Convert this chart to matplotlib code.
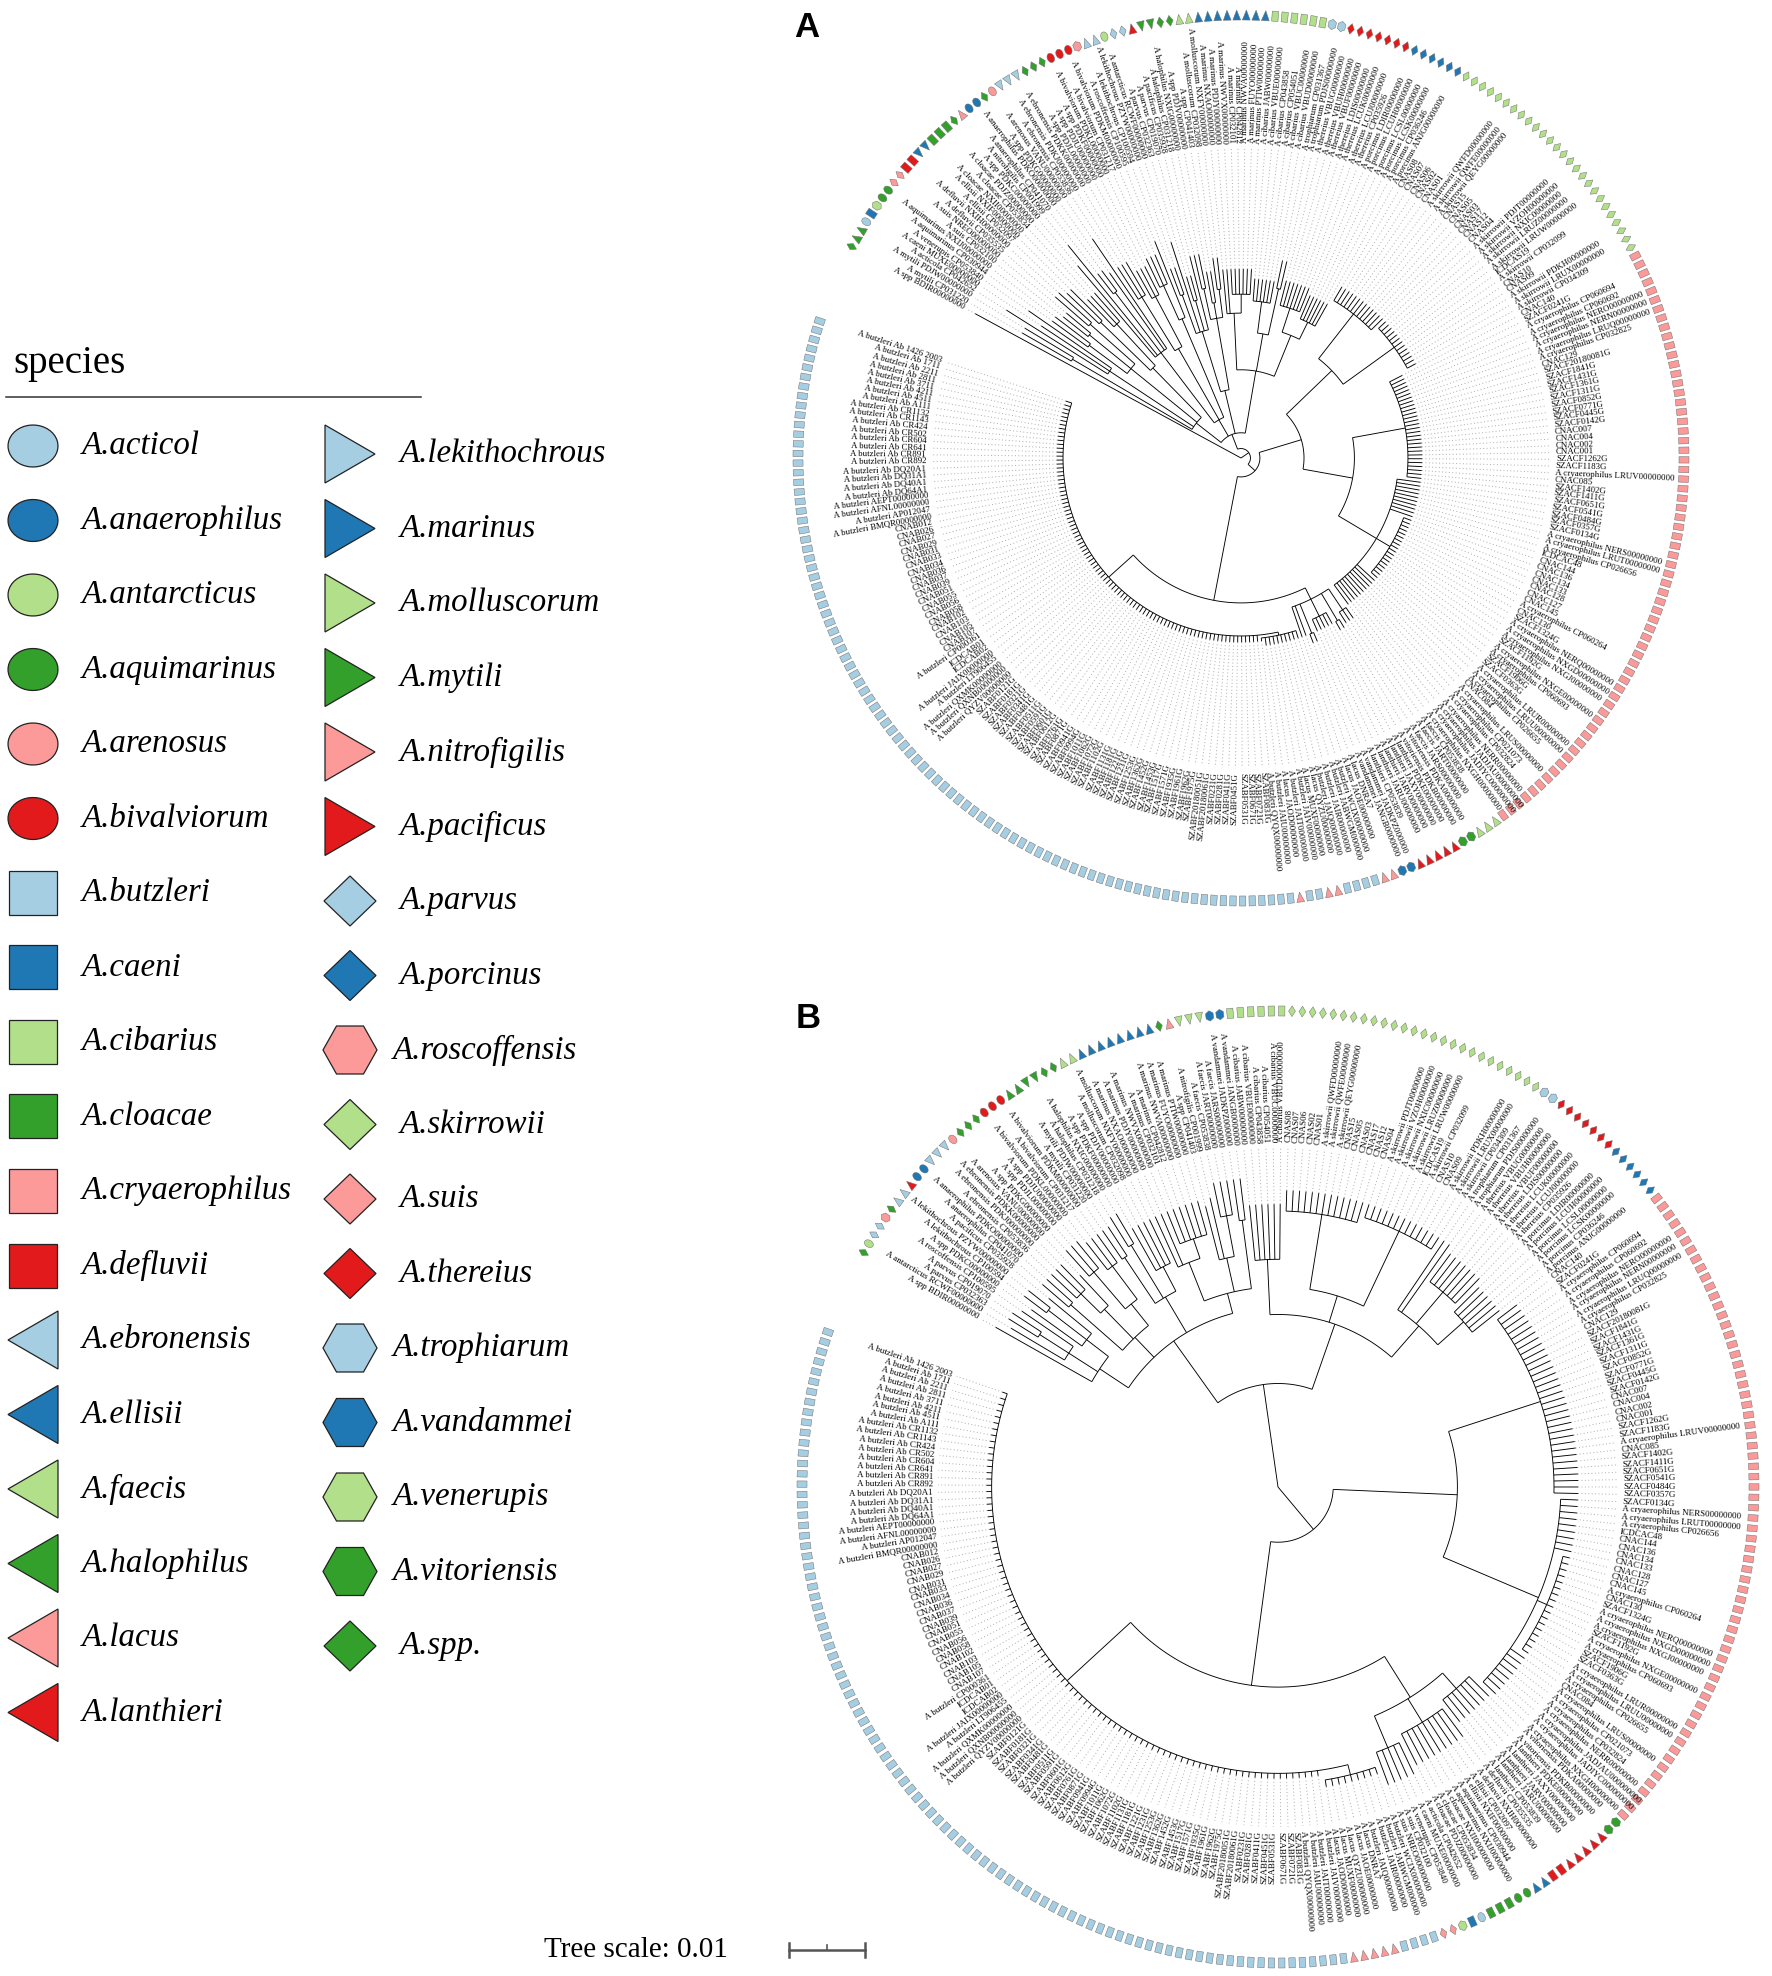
import numpy as np
import matplotlib
matplotlib.use('Agg')
import matplotlib.pyplot as plt
from matplotlib.collections import LineCollection, PatchCollection
from matplotlib.patches import Polygon

W, H = 1772, 1976
SERIF = ['Liberation Serif', 'DejaVu Serif']
plt.rcParams['font.family'] = SERIF

LB, BL, LG, GR, PK, RD = '#a6cee3', '#1f78b4', '#b2df8a', '#33a02c', '#fb9a99', '#e31a1c'

# species -> (marker shape, colour), as in the legend
STYLE = {
    'acticol': ('ellipse', LB), 'anaerophilus': ('ellipse', BL), 'antarcticus': ('ellipse', LG),
    'aquimarinus': ('ellipse', GR), 'arenosus': ('ellipse', PK), 'bivalviorum': ('ellipse', RD),
    'butzleri': ('square', LB), 'caeni': ('square', BL), 'cibarius': ('square', LG),
    'cloacae': ('square', GR), 'cryaerophilus': ('square', PK), 'defluvii': ('square', RD),
    'ebronensis': ('ltri', LB), 'ellisii': ('ltri', BL), 'faecis': ('ltri', LG),
    'halophilus': ('ltri', GR), 'lacus': ('ltri', PK), 'lanthieri': ('ltri', RD),
    'lekithochrous': ('rtri', LB), 'marinus': ('rtri', BL), 'molluscorum': ('rtri', LG),
    'mytili': ('rtri', GR), 'nitrofigilis': ('rtri', PK), 'pacificus': ('rtri', RD),
    'parvus': ('diamond', LB), 'porcinus': ('diamond', BL), 'roscoffensis': ('hexagon', PK),
    'skirrowii': ('diamond', LG), 'suis': ('diamond', PK), 'thereius': ('diamond', RD),
    'trophiarum': ('hexagon', LB), 'vandammei': ('hexagon', BL), 'venerupis': ('hexagon', LG),
    'vitoriensis': ('hexagon', GR), 'spp': ('diamond', GR),
}

LEGEND_LEFT = ['acticol', 'anaerophilus', 'antarcticus', 'aquimarinus', 'arenosus', 'bivalviorum',
               'butzleri', 'caeni', 'cibarius', 'cloacae', 'cryaerophilus', 'defluvii',
               'ebronensis', 'ellisii', 'faecis', 'halophilus', 'lacus', 'lanthieri']
LEGEND_RIGHT = ['lekithochrous', 'marinus', 'molluscorum', 'mytili', 'nitrofigilis', 'pacificus',
                'parvus', 'porcinus', 'roscoffensis', 'skirrowii', 'suis', 'thereius',
                'trophiarum', 'vandammei', 'venerupis', 'vitoriensis', 'spp']

# strain identifiers used for the tip labels
IDS = {
    'spp': ['CP041403', 'PDJV00000000', 'PDKF00000000', 'PDJU00000000', 'PDJL00000000',
            'PDKG00000000', 'PDKC00000000', 'BDIR00000000'],
    'mytili': ['PDJW00000000', 'CP031220'],
    'acticol': ['CP042652'],
    'caeni': ['MUXE00000000'],
    'venerupis': ['CP053840'],
    'aquimarinus': ['NXIJ00000000', 'CP030944'],
    'suis': ['NREO00000000', 'CP032100'],
    'defluvii': ['NXIH00000000', 'CP035535'],
    'ellisii': ['NXIF00000000', 'CP032097'],
    'cloacae': ['PDJZ00000000', 'CP053834', 'NXII00000000'],
    'nitrofigilis': ['CP001999'],
    'anaerophilus': ['PDKO00000000', 'CP041070'],
    'arenosus': ['VANU00000000'],
    'ebronensis': ['PDKK00000000', 'PDKJ00000000', 'CP053836'],
    'bivalviorum': ['PDKM00000000', 'CP031217', 'PDKL00000000'],
    'roscoffensis': ['CP100595'],
    'lekithochrous': ['PZYW00000000', 'CP100594'],
    'antarcticus': ['RCWF00000000'],
    'parvus': ['CP019070', 'CP032363'],
    'pacificus': ['CP035928'],
    'halophilus': ['NXIG00000000', 'CP031218'],
    'molluscorum': ['NXFY00000000', 'CP032098'],
    'marinus': ['PTIW00000000', 'FUYO00000000', 'NWVA00000000', 'CP042812', 'CP032101',
                'NWVX00000000', 'PDJY00000000', 'NXAO00000000'],
    'cibarius': ['VBUD00000000', 'VBUC00000000', 'CP054051', 'CP043858', 'VBUE00000000',
                 'JABW00000000'],
    'trophiarum': ['PDJS00000000', 'CP031367'],
    'thereius': ['CP035926', 'LCUJ00000000', 'LCUK00000000', 'LDIS00000000', 'VBUF00000000',
                 'VBUH00000000', 'VBUG00000000'],
    'porcinus': ['ANJG00000000', 'CP036246', 'LCSK00000000', 'LCSL00000000', 'LCUH00000000',
                 'LDIR00000000'],
    'skirrowii': ['CP034309', 'LRUX00000000', 'PDKH00000000', 'CNAS09', 'CNAS10', 'CP032099',
                  'ICDCAS19', 'LRUW00000000', 'LRUZ00000000', 'NXIC00000000', 'VZOH00000000',
                  'PDJT00000000', 'CNAS04', 'CNAS12', 'CNAS17', 'CNAS03', 'CNAS05', 'CNAS15',
                  'QEYG00000000', 'QWFE00000000', 'QWFD00000000', 'CNAS01', 'CNAS02', 'CNAS06',
                  'CNAS07', 'CNAS08'],
    'cryaerophilus': ['NXGH00000000', 'JADIYC000000000', 'JADJAU000000000', 'NERR00000000',
                      'CP032824', 'CP021073', 'LRUS00000000', 'CNAC084', 'CP026655',
                      'LRUU00000000', 'LRUR00000000', 'SZACF0363G', 'SZACF1906G', 'CP060693',
                      'NXGE00000000', 'SZACF1192G', 'NXGJ00000000', 'NXGD00000000',
                      'NERQ00000000', 'SZACF1324G', 'CNAC130', 'CP060264', 'CNAC145', 'CNAC127',
                      'CNAC128', 'CNAC133', 'CNAC134', 'CNAC136', 'CNAC144', 'ICDCAC48',
                      'CP026656', 'LRUT00000000', 'NERS00000000', 'SZACF0134G', 'SZACF0357G',
                      'SZACF0484G', 'SZACF0541G', 'SZACF0651G', 'SZACF1411G', 'SZACF1402G',
                      'CNAC085', 'LRUV00000000', 'SZACF1183G', 'SZACF1262G', 'CNAC001',
                      'CNAC002', 'CNAC004', 'CNAC007', 'SZACF0142G', 'SZACF0445G', 'SZACF0771G',
                      'SZACF0852G', 'SZACF1311G', 'SZACF1361G', 'SZACF1431G', 'SZACF1841G',
                      'SZACF20180081G', 'CNAC129', 'CP032825', 'LRUQ00000000', 'NERN00000000',
                      'NERO00000000', 'CP060692', 'CP060694', 'SZACF0241G', 'CNAC140'],
    'faecis': ['JARS00000000', 'JART00000000', 'CP053838'],
    'vitoriensis': ['PDKB00000000', 'PDKA00000000'],
    'lanthieri': ['CP053839', 'JARU00000000', 'JARV00000000', 'JAXY00000000', 'PDKE00000000'],
    'vandammei': ['JANGB0000000', 'JADKPZ000000'],
    'lacus': ['JAOD00000000', 'MUXF00000000', 'QYZU00000000', 'JAOE00000000', 'DNRA7'],
    'butzleri': ['Ab 1426 2003', 'Ab 1711', 'Ab 2211', 'Ab 2811', 'Ab 3711', 'Ab 4211', 'Ab 4511',
                 'Ab A111', 'Ab CR1132', 'Ab CR1143', 'Ab CR424', 'Ab CR502', 'Ab CR604',
                 'Ab CR641', 'Ab CR891', 'Ab CR892', 'Ab DQ20A1', 'Ab DQ31A1', 'Ab DQ40A1',
                 'Ab DQ64A1', 'AEPT00000000', 'AFNL00000000', 'AP012047', 'BMQR00000000',
                 'CNAB012', 'CNAB026', 'CNAB027', 'CNAB029', 'CNAB031', 'CNAB033', 'CNAB034',
                 'CNAB036', 'CNAB037', 'CNAB039', 'CNAB051', 'CNAB055', 'CNAB056', 'CNAB058',
                 'CNAB102', 'CNAB103', 'CNAB105', 'CNAB107', 'CP000361', 'ICDCAB01', 'ICDCAB02',
                 'JAIX00000000', 'LT906455', 'QXMK00000000', 'QXNB00000000', 'QYZV00000000',
                 'SZABF0121G', 'SZABF0181G', 'SZABF0321G', 'SZABF0341G', 'SZABF0481G',
                 'SZABF0511G', 'SZABF0591G', 'SZABF0601G', 'SZABF0612G', 'SZABF0761G',
                 'SZABF0871G', 'SZABF0941G', 'SZABF0994G', 'SZABF1011G', 'SZABF1062G',
                 'SZABF1072G', 'SZABF1102G', 'SZABF1131G', 'SZABF1181G', 'SZABF1221G',
                 'SZABF1231G', 'SZABF1253G', 'SZABF1362G', 'SZABF1452G', 'SZABF1453G',
                 'SZABF1517G', 'SZABF1571G', 'SZABF1935G', 'SZABF1961G', 'SZABF1962G',
                 'SZABF1975G', 'SZABF20180051G', 'SZABF20180061G', 'SZABF0231G', 'SZABF0281G',
                 'SZABF0411G', 'SZABF0451G', 'SZABF0531G', 'SZABF0671G', 'SZABF0721G',
                 'SZABF0831G', 'QYQX00000000', 'JAIU00000000', 'JAIT00000000', 'JAIV00000000',
                 'JAIQ00000000', 'JAIR00000000', 'JABWGM000000', 'WCIX00000000'],
}

# ---- tree A: leaf order round the ring (clockwise) and tip depth per run ----
RUNS_A = [('spp', 1), ('mytili', 2), ('acticol', 1), ('caeni', 1), ('venerupis', 1),
          ('aquimarinus', 2), ('suis', 2), ('defluvii', 2), ('ellisii', 2), ('cloacae', 3),
          ('spp', 1), ('nitrofigilis', 1), ('anaerophilus', 2), ('spp', 1), ('arenosus', 1),
          ('ebronensis', 3), ('spp', 3), ('bivalviorum', 3), ('roscoffensis', 1),
          ('lekithochrous', 2), ('antarcticus', 1), ('parvus', 2), ('pacificus', 1),
          ('halophilus', 2), ('spp', 2), ('molluscorum', 2), ('marinus', 8), ('cibarius', 6),
          ('trophiarum', 2), ('thereius', 7), ('porcinus', 6), ('skirrowii', 26),
          ('cryaerophilus', 66), ('faecis', 3), ('vitoriensis', 2), ('lanthieri', 5),
          ('vandammei', 2), ('lacus', 2), ('butzleri', 4), ('lacus', 2), ('butzleri', 2),
          ('lacus', 1), ('butzleri', 93)]
TIPS_A = [0.96, 0.80, 0.88, 0.76, 0.82, 0.74, 0.72, 0.78, 0.76, 0.70,
          0.80, 0.87, 0.74, 0.72, 0.84, 0.72, 0.68, 0.70, 0.74, 0.64,
          0.72, 0.60, 0.66, 0.66, 0.60, 0.64, 0.60, 0.57, 0.64, 0.58,
          0.56, 0.63, 0.575, 0.62, 0.63, 0.60, 0.63, 0.60, 0.60, 0.60,
          0.60, 0.60, 0.585]
# clades: (first leaf, last leaf, node depth)
CLADES_A = [(0, 281, 0.00), (1, 281, 0.03), (1, 73, 0.08),
            (1, 16, 0.18), (1, 2, 0.62), (3, 5, 0.50), (6, 11, 0.45), (6, 7, 0.60),
            (8, 9, 0.62), (10, 11, 0.64), (12, 16, 0.40), (12, 13, 0.62), (14, 16, 0.58),
            (17, 32, 0.14), (17, 22, 0.42), (19, 20, 0.66), (23, 28, 0.40), (23, 25, 0.60),
            (26, 28, 0.58), (29, 32, 0.48), (29, 31, 0.60),
            (33, 44, 0.22), (33, 38, 0.42), (33, 34, 0.55), (36, 37, 0.52),
            (39, 44, 0.45), (39, 40, 0.55), (41, 42, 0.50), (43, 44, 0.54),
            (45, 73, 0.28), (45, 52, 0.46), (47, 52, 0.52), (53, 60, 0.40), (53, 58, 0.50),
            (59, 60, 0.55), (61, 73, 0.42), (61, 67, 0.50), (68, 73, 0.48),
            (74, 281, 0.06), (74, 165, 0.20), (74, 99, 0.40), (74, 86, 0.58), (87, 99, 0.60),
            (100, 165, 0.36), (100, 127, 0.53), (128, 165, 0.50), (138, 155, 0.55),
            (166, 281, 0.46), (166, 179, 0.50), (166, 168, 0.58), (169, 170, 0.60),
            (171, 175, 0.56), (176, 177, 0.60), (180, 281, 0.565), (180, 189, 0.575)]

# ---- tree B ----
RUNS_B = [('spp', 1), ('antarcticus', 1), ('parvus', 2), ('roscoffensis', 1), ('spp', 1),
          ('lekithochrous', 2), ('pacificus', 1), ('anaerophilus', 2), ('ebronensis', 3),
          ('arenosus', 1), ('spp', 3), ('bivalviorum', 3), ('mytili', 2), ('halophilus', 2),
          ('spp', 2), ('molluscorum', 2), ('marinus', 8), ('spp', 1), ('nitrofigilis', 1),
          ('faecis', 3), ('vandammei', 2), ('cibarius', 6), ('skirrowii', 26),
          ('trophiarum', 2), ('thereius', 7), ('porcinus', 6), ('cryaerophilus', 66),
          ('vitoriensis', 2), ('lanthieri', 5), ('defluvii', 2), ('ellisii', 2),
          ('aquimarinus', 2), ('cloacae', 3), ('acticol', 1), ('caeni', 1), ('venerupis', 1),
          ('suis', 2), ('butzleri', 4), ('lacus', 5), ('butzleri', 95)]
TIPS_B = [0.94, 0.90, 0.92, 0.90, 0.88, 0.92, 0.86, 0.90, 0.90, 0.84,
          0.92, 0.90, 0.90, 0.92, 0.86, 0.86, 0.86, 0.84, 0.86, 0.90,
          0.90, 0.82, 0.86, 0.86, 0.84, 0.82, 0.87, 0.86, 0.86, 0.90,
          0.90, 0.90, 0.90, 0.92, 0.92, 0.92, 0.92, 0.88, 0.88, 0.845]
CLADES_B = [(0, 281, 0.00), (0, 90, 0.30), (0, 43, 0.52),
            (0, 8, 0.62), (1, 4, 0.72), (2, 3, 0.82), (5, 8, 0.70), (6, 7, 0.84),
            (9, 20, 0.60), (9, 10, 0.80), (11, 14, 0.72), (11, 13, 0.80), (15, 20, 0.68),
            (15, 17, 0.82), (18, 20, 0.80),
            (21, 28, 0.64), (21, 22, 0.80), (23, 24, 0.82), (25, 28, 0.72),
            (29, 43, 0.58), (29, 36, 0.70), (31, 36, 0.76), (37, 41, 0.68), (39, 41, 0.80),
            (42, 43, 0.78),
            (44, 90, 0.50), (44, 49, 0.66), (50, 75, 0.58), (50, 62, 0.80), (63, 75, 0.82),
            (76, 90, 0.62), (78, 84, 0.74), (85, 90, 0.72),
            (91, 281, 0.16), (91, 156, 0.52), (91, 122, 0.80), (123, 156, 0.82),
            (132, 148, 0.85), (157, 281, 0.58), (157, 177, 0.72), (157, 163, 0.78),
            (164, 172, 0.80), (173, 177, 0.82), (178, 281, 0.83), (178, 186, 0.86)]

UNIT_SHAPES = {
    'ellipse': np.column_stack([np.cos(np.linspace(0, 2 * np.pi, 40)),
                                np.sin(np.linspace(0, 2 * np.pi, 40))]),
    'square': np.array([[-1, -1], [1, -1], [1, 1], [-1, 1]]),
    'ltri': np.array([[-1, 0], [1, -1], [1, 1]]),
    'rtri': np.array([[1, 0], [-1, -1], [-1, 1]]),
    'diamond': np.array([[1, 0], [0, 1], [-1, 0], [0, -1]]),
    'hexagon': np.array([[1, 0], [0.5, 1], [-0.5, 1], [-1, 0], [-0.5, -1], [0.5, -1]]),
}
RING_SIZE = {'ellipse': (4.8, 3.5), 'square': (5.0, 3.2), 'ltri': (5.0, 3.9),
             'rtri': (5.0, 3.9), 'diamond': (5.4, 3.4), 'hexagon': (5.2, 3.8)}
LEG_SIZE = {'ellipse': (25, 21), 'square': (24, 22), 'ltri': (25, 29),
            'rtri': (25, 29), 'diamond': (26, 25), 'hexagon': (27, 24)}
CODE_PREFIX = ('CNA', 'SZA', 'ICDC')


def shape_poly(shape, x, y, ang, size):
    sx, sy = size
    loc = UNIT_SHAPES[shape] * [sx, sy]
    c, s = np.cos(ang), np.sin(ang)
    px = x + loc[:, 0] * c - loc[:, 1] * s
    py = y + loc[:, 0] * s + loc[:, 1] * c
    return np.column_stack([px, py])


def leaf_label(sp, ident):
    if ident.startswith(CODE_PREFIX):
        return ident
    name = 'acticola' if sp == 'acticol' else sp
    return f'A {name} {ident}'


def draw_tree(ax, cx, cy, r_lab, r_ring, theta0, runs, tips, clades, fsize):
    species = [s for s, n in runs for _ in range(n)]
    tip = [t for (s, n), t in zip(runs, tips) for _ in range(n)]
    n = len(species)
    theta = theta0 - np.arange(n) * 349.5 / (n - 1)

    def pt(r, a):
        a = np.radians(a)
        return cx + r * r_lab * np.cos(a), cy + r * r_lab * np.sin(a)

    cl = sorted(clades, key=lambda c: c[0] - c[1])
    parent = {}
    for j, c in enumerate(cl):
        parent[j] = None
        for k in range(j):
            if cl[k][0] <= c[0] and c[1] <= cl[k][1]:
                parent[j] = k
    leaf_par = []
    for i in range(n):
        p = None
        for k, c in enumerate(cl):
            if c[0] <= i <= c[1]:
                p = k
        leaf_par.append(p)

    children = {j: [] for j in range(len(cl))}
    for j in range(len(cl)):
        if parent[j] is not None:
            children[parent[j]].append((cl[j][0], 'c', j))
    for i in range(n):
        children[leaf_par[i]].append((i, 'l', i))
    ang = {}
    span = {}
    for j in reversed(range(len(cl))):
        ch = sorted(children[j])
        a = [theta[k] if kind == 'l' else ang[k] for _, kind, k in ch]
        span[j] = (a[0], a[-1])
        ang[j] = (a[0] + a[-1]) / 2

    segs = []
    for j in range(len(cl)):
        r = cl[j][2]
        if parent[j] is not None:
            rp = cl[parent[j]][2]
            segs.append([pt(rp, ang[j]), pt(r, ang[j])])
        a0, a1 = span[j]
        aa = np.linspace(a0, a1, int(abs(a1 - a0)) + 2)
        segs.append(np.column_stack(pt(r, aa)))
    dots = []
    for i in range(n):
        rp = cl[leaf_par[i]][2]
        segs.append([pt(rp, theta[i]), pt(tip[i], theta[i])])
        dots.append([pt(tip[i], theta[i]), pt(0.985, theta[i])])
    ax.add_collection(LineCollection(dots, colors='#ababab', linewidths=0.7,
                                     linestyles=(0, (1, 2.5))))
    ax.add_collection(LineCollection(segs, colors='black', linewidths=0.65))

    # tip labels
    used = {}
    for i in range(n):
        sp = species[i]
        k = used.get(sp, 0)
        used[sp] = k + 1
        pool = IDS[sp]
        ident = pool[len(pool) - 1 - (k % len(pool))]
        a = (theta[i] + 180) % 360 - 180
        x, y = pt(1.0, theta[i])
        if -90 <= a <= 90:
            rot, ha = a, 'left'
        else:
            rot, ha = a + 180, 'right'
        ax.text(x, y, leaf_label(sp, ident), fontsize=fsize, rotation=rot, ha=ha,
                va='center', rotation_mode='anchor', family=SERIF)

    # coloured ring
    polys, cols = [], []
    for i in range(n):
        shape, col = STYLE[species[i]]
        a = np.radians(theta[i])
        x, y = cx + r_ring * np.cos(a), cy + r_ring * np.sin(a)
        polys.append(Polygon(shape_poly(shape, x, y, a, RING_SIZE[shape])))
        cols.append(col)
    ax.add_collection(PatchCollection(polys, facecolors=cols, edgecolors='#707070',
                                      linewidths=0.35))


fig = plt.figure(figsize=(W / 100, H / 100), dpi=100)
ax = fig.add_axes([0, 0, 1, 1])
ax.set_xlim(0, W)
ax.set_ylim(0, H)
ax.set_aspect('equal')
ax.axis('off')

draw_tree(ax, 1241, H - 458, 315, 443, 151.5, RUNS_A, TIPS_A, CLADES_A, 6.4)
draw_tree(ax, 1278, H - 1487, 345, 476, 150.5, RUNS_B, TIPS_B, CLADES_B, 6.5)

ax.text(794, H - 11, 'A', fontsize=25, fontweight='bold', family='Liberation Sans',
        ha='left', va='top')
ax.text(796, H - 1002, 'B', fontsize=25, fontweight='bold', family='Liberation Sans',
        ha='left', va='top')

# legend
ax.text(13, H - 364, 'species', fontsize=28, ha='left', va='center', family=SERIF)
ax.plot([6, 421], [H - 397, H - 397], color='#333333', lw=1.1)
for col_names, mx, tx, y0 in [(LEGEND_LEFT, 33, 82, 446), (LEGEND_RIGHT, 350, 400, 454)]:
    for i, sp in enumerate(col_names):
        shape, col = STYLE[sp]
        y = H - (y0 + 74.5 * i)
        ax.add_patch(Polygon(shape_poly(shape, mx, y, 0.0, LEG_SIZE[shape]),
                             facecolor=col, edgecolor='#222222', lw=0.9))
        label = 'A.spp.' if sp == 'spp' else f'A.{sp}'
        ax.text(tx - (7 if shape == 'hexagon' else 0), y, label, fontsize=23.7,
                style='italic', ha='left', va='center', family=SERIF)

# tree scale
ax.text(544, H - 1950, 'Tree scale: 0.01', fontsize=21, ha='left', va='center', family=SERIF)
ax.plot([789, 865], [H - 1950, H - 1950], color='#555555', lw=1.8)
for x, h in [(789, 7), (865, 7)]:
    ax.plot([x, x], [H - 1950 - h, H - 1950 + h], color='#555555', lw=1.8)
ax.plot([827, 827], [H - 1950, H - 1945], color='#555555', lw=1.2)

fig.savefig('out.png', dpi=100)
